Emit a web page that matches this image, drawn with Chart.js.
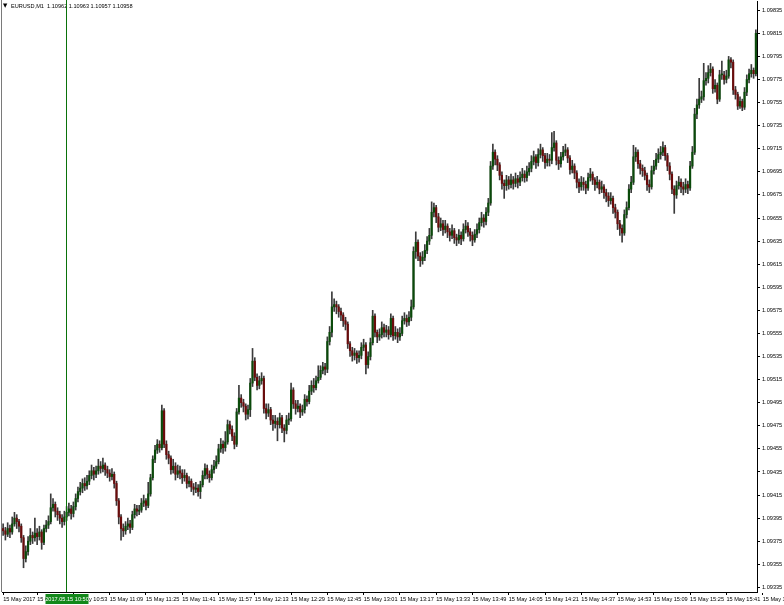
<!DOCTYPE html>
<html><head><meta charset="utf-8">
<script src="https://cdn.jsdelivr.net/npm/chart.js@4.4.1/dist/chart.umd.min.js"></script>
<style>html,body{margin:0;padding:0;background:#fff;}#wrap{width:784px;height:605px;}</style>
</head><body><div id="wrap"><canvas id="c" width="784" height="605"></canvas></div>
<script>
const headerText = 'EURUSD,M1  1.10962 1.10963 1.10957 1.10958';
const startHour = 10, startMinute = 22, dayPrefix = '15 May ';
const cursorIndex = 28;
const cursorLabel = '2017.05.15 10:50';

const openP = [
1.09386,1.09384,1.09381,1.09386,1.09383,1.09390,1.09395,1.09392,1.09388,1.09378,
1.09360,1.09366,1.09375,1.09380,1.09378,1.09382,1.09379,1.09383,1.09374,1.09386,
1.09389,1.09392,1.09404,1.09407,1.09401,1.09398,1.09395,1.09392,1.09396,1.09400,
1.09403,1.09399,1.09405,1.09412,1.09418,1.09421,1.09425,1.09423,1.09427,1.09432,
1.09436,1.09433,1.09436,1.09440,1.09438,1.09441,1.09437,1.09434,1.09431,1.09433,
1.09425,1.09410,1.09396,1.09386,1.09384,1.09388,1.09390,1.09387,1.09398,1.09403,
1.09401,1.09402,1.09408,1.09410,1.09406,1.09416,1.09430,1.09446,1.09454,1.09459,
1.09456,1.09488,1.09459,1.09450,1.09447,1.09437,1.09440,1.09433,1.09436,1.09434,
1.09430,1.09432,1.09425,1.09427,1.09422,1.09420,1.09421,1.09418,1.09424,1.09432,
1.09438,1.09433,1.09430,1.09437,1.09440,1.09444,1.09455,1.09459,1.09456,1.09461,
1.09476,1.09472,1.09466,1.09459,1.09487,1.09499,1.09495,1.09492,1.09485,1.09489,
1.09512,1.09531,1.09517,1.09510,1.09514,1.09516,1.09490,1.09486,1.09489,1.09480,
1.09477,1.09479,1.09476,1.09482,1.09473,1.09471,1.09480,1.09481,1.09506,1.09494,
1.09490,1.09492,1.09487,1.09489,1.09498,1.09496,1.09505,1.09510,1.09508,1.09514,
1.09517,1.09523,1.09526,1.09524,1.09548,1.09556,1.09578,1.09580,1.09578,1.09574,
1.09571,1.09566,1.09563,1.09546,1.09540,1.09536,1.09538,1.09534,1.09536,1.09543,
1.09545,1.09528,1.09535,1.09547,1.09570,1.09556,1.09552,1.09554,1.09560,1.09556,
1.09558,1.09554,1.09568,1.09553,1.09556,1.09552,1.09555,1.09566,1.09568,1.09565,
1.09569,1.09578,1.09626,1.09634,1.09622,1.09618,1.09621,1.09627,1.09635,1.09640,
1.09660,1.09664,1.09656,1.09647,1.09650,1.09645,1.09648,1.09643,1.09640,1.09644,
1.09638,1.09636,1.09640,1.09637,1.09645,1.09648,1.09643,1.09640,1.09636,1.09641,
1.09645,1.09651,1.09655,1.09652,1.09660,1.09668,1.09700,1.09712,1.09706,1.09701,
1.09692,1.09685,1.09683,1.09688,1.09684,1.09688,1.09685,1.09689,1.09686,1.09690,
1.09693,1.09690,1.09695,1.09698,1.09704,1.09708,1.09703,1.09710,1.09714,1.09709,
1.09703,1.09706,1.09705,1.09716,1.09720,1.09705,1.09702,1.09708,1.09712,1.09714,
1.09707,1.09697,1.09700,1.09694,1.09686,1.09682,1.09686,1.09684,1.09681,1.09690,
1.09693,1.09688,1.09684,1.09686,1.09680,1.09682,1.09677,1.09674,1.09670,1.09672,
1.09664,1.09660,1.09650,1.09646,1.09642,1.09658,1.09664,1.09680,1.09686,1.09708,
1.09712,1.09702,1.09698,1.09696,1.09692,1.09684,1.09682,1.09696,1.09700,1.09706,
1.09710,1.09712,1.09716,1.09709,1.09700,1.09693,1.09680,1.09675,1.09683,1.09686,
1.09682,1.09680,1.09684,1.09681,1.09700,1.09712,1.09745,1.09753,1.09758,1.09760,
1.09774,1.09776,1.09781,1.09784,1.09767,1.09770,1.09758,1.09779,1.09779,1.09775,
1.09778,1.09792,1.09790,1.09766,1.09762,1.09752,1.09756,1.09751,1.09764,1.09775,
1.09780,1.09783,1.09780];

const highP = [
1.09390,1.09387,1.09391,1.09389,1.09396,1.09400,1.09398,1.09394,1.09390,1.09380,
1.09371,1.09379,1.09386,1.09383,1.09395,1.09386,1.09388,1.09385,1.09389,1.09393,
1.09397,1.09416,1.09412,1.09409,1.09404,1.09401,1.09398,1.09401,1.09405,1.09408,
1.09406,1.09409,1.09416,1.09422,1.09426,1.09429,1.09430,1.09432,1.09436,1.09441,
1.09439,1.09440,1.09446,1.09444,1.09447,1.09443,1.09440,1.09437,1.09438,1.09435,
1.09427,1.09412,1.09398,1.09390,1.09392,1.09395,1.09393,1.09401,1.09407,1.09406,
1.09406,1.09412,1.09415,1.09412,1.09426,1.09433,1.09449,1.09458,1.09463,1.09462,
1.09493,1.09490,1.09462,1.09453,1.09449,1.09446,1.09443,1.09441,1.09440,1.09437,
1.09437,1.09434,1.09431,1.09429,1.09425,1.09426,1.09424,1.09427,1.09436,1.09442,
1.09441,1.09436,1.09441,1.09445,1.09449,1.09459,1.09464,1.09462,1.09470,1.09480,
1.09479,1.09475,1.09469,1.09490,1.09510,1.09502,1.09498,1.09494,1.09493,1.09516,
1.09542,1.09534,1.09520,1.09518,1.09521,1.09518,1.09494,1.09494,1.09491,1.09484,
1.09484,1.09482,1.09486,1.09484,1.09476,1.09484,1.09486,1.09512,1.09508,1.09497,
1.09497,1.09494,1.09493,1.09502,1.09501,1.09510,1.09514,1.09516,1.09518,1.09527,
1.09527,1.09530,1.09529,1.09552,1.09561,1.09591,1.09585,1.09583,1.09580,1.09577,
1.09573,1.09569,1.09565,1.09548,1.09543,1.09542,1.09540,1.09540,1.09547,1.09550,
1.09547,1.09539,1.09551,1.09575,1.09572,1.09558,1.09559,1.09565,1.09563,1.09562,
1.09561,1.09572,1.09570,1.09561,1.09559,1.09560,1.09570,1.09573,1.09571,1.09574,
1.09584,1.09630,1.09643,1.09636,1.09625,1.09626,1.09632,1.09639,1.09646,1.09669,
1.09668,1.09666,1.09659,1.09655,1.09653,1.09653,1.09650,1.09646,1.09649,1.09646,
1.09641,1.09645,1.09643,1.09650,1.09653,1.09651,1.09646,1.09643,1.09645,1.09650,
1.09655,1.09660,1.09658,1.09664,1.09672,1.09704,1.09719,1.09714,1.09709,1.09703,
1.09695,1.09688,1.09692,1.09691,1.09693,1.09691,1.09694,1.09692,1.09695,1.09698,
1.09696,1.09700,1.09703,1.09709,1.09713,1.09710,1.09715,1.09719,1.09716,1.09711,
1.09711,1.09710,1.09729,1.09730,1.09722,1.09708,1.09712,1.09717,1.09719,1.09716,
1.09709,1.09705,1.09702,1.09696,1.09689,1.09691,1.09690,1.09687,1.09694,1.09698,
1.09695,1.09690,1.09691,1.09688,1.09687,1.09684,1.09680,1.09677,1.09677,1.09674,
1.09667,1.09662,1.09653,1.09649,1.09662,1.09669,1.09684,1.09691,1.09718,1.09716,
1.09714,1.09705,1.09701,1.09699,1.09694,1.09688,1.09700,1.09705,1.09711,1.09715,
1.09717,1.09721,1.09718,1.09711,1.09703,1.09695,1.09683,1.09687,1.09691,1.09689,
1.09686,1.09689,1.09687,1.09704,1.09717,1.09750,1.09758,1.09776,1.09765,1.09789,
1.09781,1.09787,1.09789,1.09786,1.09775,1.09772,1.09783,1.09791,1.09782,1.09783,
1.09795,1.09794,1.09792,1.09769,1.09764,1.09760,1.09758,1.09768,1.09779,1.09784,
1.09788,1.09785,1.09818];

const lowP = [
1.09380,1.09376,1.09379,1.09378,1.09381,1.09388,1.09386,1.09383,1.09374,1.09352,
1.09357,1.09363,1.09372,1.09373,1.09375,1.09372,1.09376,1.09368,1.09372,1.09383,
1.09386,1.09390,1.09401,1.09396,1.09393,1.09390,1.09387,1.09389,1.09393,1.09397,
1.09394,1.09396,1.09402,1.09409,1.09415,1.09417,1.09419,1.09420,1.09424,1.09429,
1.09428,1.09430,1.09433,1.09434,1.09435,1.09432,1.09430,1.09427,1.09428,1.09421,
1.09406,1.09390,1.09376,1.09379,1.09381,1.09385,1.09382,1.09385,1.09395,1.09397,
1.09398,1.09400,1.09405,1.09402,1.09404,1.09414,1.09428,1.09443,1.09451,1.09452,
1.09454,1.09456,1.09446,1.09442,1.09433,1.09434,1.09428,1.09430,1.09429,1.09425,
1.09427,1.09421,1.09422,1.09418,1.09415,1.09417,1.09414,1.09412,1.09422,1.09429,
1.09429,1.09426,1.09428,1.09434,1.09438,1.09442,1.09452,1.09451,1.09453,1.09459,
1.09468,1.09462,1.09455,1.09457,1.09485,1.09491,1.09487,1.09480,1.09481,1.09483,
1.09509,1.09514,1.09506,1.09507,1.09511,1.09486,1.09481,1.09483,1.09476,1.09471,
1.09473,1.09462,1.09473,1.09469,1.09461,1.09468,1.09476,1.09479,1.09490,1.09485,
1.09487,1.09482,1.09484,1.09486,1.09492,1.09494,1.09502,1.09504,1.09506,1.09512,
1.09515,1.09520,1.09519,1.09521,1.09545,1.09552,1.09574,1.09572,1.09569,1.09566,
1.09561,1.09558,1.09542,1.09535,1.09531,1.09532,1.09529,1.09530,1.09533,1.09540,
1.09520,1.09525,1.09532,1.09545,1.09552,1.09547,1.09549,1.09551,1.09552,1.09552,
1.09550,1.09552,1.09549,1.09550,1.09547,1.09549,1.09553,1.09563,1.09561,1.09562,
1.09566,1.09576,1.09620,1.09618,1.09613,1.09615,1.09618,1.09624,1.09632,1.09637,
1.09656,1.09651,1.09643,1.09644,1.09640,1.09642,1.09638,1.09635,1.09637,1.09633,
1.09631,1.09633,1.09632,1.09635,1.09642,1.09639,1.09635,1.09631,1.09634,1.09638,
1.09642,1.09648,1.09647,1.09649,1.09657,1.09666,1.09697,1.09701,1.09696,1.09688,
1.09680,1.09672,1.09679,1.09680,1.09681,1.09680,1.09682,1.09681,1.09683,1.09687,
1.09686,1.09687,1.09692,1.09695,1.09701,1.09698,1.09700,1.09707,1.09704,1.09698,
1.09700,1.09700,1.09702,1.09713,1.09701,1.09697,1.09699,1.09705,1.09709,1.09703,
1.09693,1.09694,1.09689,1.09681,1.09677,1.09679,1.09679,1.09676,1.09679,1.09687,
1.09684,1.09679,1.09681,1.09676,1.09677,1.09672,1.09669,1.09665,1.09667,1.09659,
1.09655,1.09645,1.09640,1.09634,1.09640,1.09655,1.09662,1.09677,1.09684,1.09704,
1.09698,1.09693,1.09691,1.09688,1.09679,1.09677,1.09680,1.09693,1.09697,1.09703,
1.09706,1.09709,1.09705,1.09696,1.09688,1.09676,1.09659,1.09672,1.09680,1.09677,
1.09675,1.09677,1.09676,1.09679,1.09698,1.09710,1.09741,1.09750,1.09755,1.09757,
1.09770,1.09772,1.09778,1.09763,1.09764,1.09754,1.09756,1.09775,1.09771,1.09772,
1.09776,1.09785,1.09762,1.09758,1.09749,1.09750,1.09748,1.09749,1.09761,1.09772,
1.09777,1.09776,1.09778];

const closeP = [
1.09384,1.09381,1.09386,1.09383,1.09390,1.09395,1.09392,1.09388,1.09378,1.09360,
1.09366,1.09375,1.09380,1.09378,1.09382,1.09379,1.09383,1.09374,1.09386,1.09389,
1.09392,1.09404,1.09407,1.09401,1.09398,1.09395,1.09392,1.09396,1.09400,1.09403,
1.09399,1.09405,1.09412,1.09418,1.09421,1.09425,1.09423,1.09427,1.09432,1.09436,
1.09433,1.09436,1.09440,1.09438,1.09441,1.09437,1.09434,1.09431,1.09433,1.09425,
1.09410,1.09396,1.09386,1.09384,1.09388,1.09390,1.09387,1.09398,1.09403,1.09401,
1.09402,1.09408,1.09410,1.09406,1.09416,1.09430,1.09446,1.09454,1.09459,1.09456,
1.09488,1.09459,1.09450,1.09447,1.09437,1.09440,1.09433,1.09436,1.09434,1.09430,
1.09432,1.09425,1.09427,1.09422,1.09420,1.09421,1.09418,1.09424,1.09432,1.09438,
1.09433,1.09430,1.09437,1.09440,1.09444,1.09455,1.09459,1.09456,1.09461,1.09476,
1.09472,1.09466,1.09459,1.09487,1.09499,1.09495,1.09492,1.09485,1.09489,1.09512,
1.09531,1.09517,1.09510,1.09514,1.09516,1.09490,1.09486,1.09489,1.09480,1.09477,
1.09479,1.09476,1.09482,1.09473,1.09471,1.09480,1.09481,1.09506,1.09494,1.09490,
1.09492,1.09487,1.09489,1.09498,1.09496,1.09505,1.09510,1.09508,1.09514,1.09517,
1.09523,1.09526,1.09524,1.09548,1.09556,1.09578,1.09580,1.09578,1.09574,1.09571,
1.09566,1.09563,1.09546,1.09540,1.09536,1.09538,1.09534,1.09536,1.09543,1.09545,
1.09528,1.09535,1.09547,1.09570,1.09556,1.09552,1.09554,1.09560,1.09556,1.09558,
1.09554,1.09568,1.09553,1.09556,1.09552,1.09555,1.09566,1.09568,1.09565,1.09569,
1.09578,1.09626,1.09634,1.09622,1.09618,1.09621,1.09627,1.09635,1.09640,1.09660,
1.09664,1.09656,1.09647,1.09650,1.09645,1.09648,1.09643,1.09640,1.09644,1.09638,
1.09636,1.09640,1.09637,1.09645,1.09648,1.09643,1.09640,1.09636,1.09641,1.09645,
1.09651,1.09655,1.09652,1.09660,1.09668,1.09700,1.09712,1.09706,1.09701,1.09692,
1.09685,1.09683,1.09688,1.09684,1.09688,1.09685,1.09689,1.09686,1.09690,1.09693,
1.09690,1.09695,1.09698,1.09704,1.09708,1.09703,1.09710,1.09714,1.09709,1.09703,
1.09706,1.09705,1.09716,1.09720,1.09705,1.09702,1.09708,1.09712,1.09714,1.09707,
1.09697,1.09700,1.09694,1.09686,1.09682,1.09686,1.09684,1.09681,1.09690,1.09693,
1.09688,1.09684,1.09686,1.09680,1.09682,1.09677,1.09674,1.09670,1.09672,1.09664,
1.09660,1.09650,1.09646,1.09642,1.09658,1.09664,1.09680,1.09686,1.09708,1.09712,
1.09702,1.09698,1.09696,1.09692,1.09684,1.09682,1.09696,1.09700,1.09706,1.09710,
1.09712,1.09716,1.09709,1.09700,1.09693,1.09680,1.09675,1.09683,1.09686,1.09682,
1.09680,1.09684,1.09681,1.09700,1.09712,1.09745,1.09753,1.09758,1.09760,1.09774,
1.09776,1.09781,1.09784,1.09767,1.09770,1.09758,1.09779,1.09779,1.09775,1.09778,
1.09792,1.09790,1.09766,1.09762,1.09752,1.09756,1.09751,1.09764,1.09775,1.09780,
1.09783,1.09780,1.09815];

const xTickIndex = [0,15,31,47,63,79,95,111,127,143,159,175,191,207,223,239,255,271,287,303,319,335];
const xTickLabels = ['15 May 2017','15 May 10:37','15 May 10:53','15 May 11:09','15 May 11:25','15 May 11:41',
  '15 May 11:57','15 May 12:13','15 May 12:29','15 May 12:45','15 May 13:01','15 May 13:17','15 May 13:33',
  '15 May 13:49','15 May 14:05','15 May 14:21','15 May 14:37','15 May 14:53','15 May 15:09','15 May 15:25',
  '15 May 15:41','15 May 15:57'];
const yTickValues = [1.09335,1.09355,1.09375,1.09395,1.09415,1.09435,1.09455,1.09475,1.09495,1.09515,
  1.09535,1.09555,1.09575,1.09595,1.09615,1.09635,1.09655,1.09675,1.09695,1.09715,1.09735,1.09755,
  1.09775,1.09795,1.09815,1.09835];
const yMin = 1.09331, yMax = 1.09843;

// categories: one per minute bar
const categories = [];
for (let i = 0; i < closeP.length; i++) {
  const t = startHour * 60 + startMinute + i;
  categories.push(dayPrefix + String(Math.floor(t / 60)).padStart(2, '0') + ':' + String(t % 60).padStart(2, '0'));
}
const tickLabelMap = {};
xTickIndex.forEach((v, i) => { tickLabelMap[v] = xTickLabels[i]; });

const wickData = lowP.map((l, i) => [l, highP[i]]);
const bodyData = openP.map((o, i) => [Math.min(o, closeP[i]), Math.max(o, closeP[i])]);
const BULL = '#0a4a0a', BEAR = '#6a0b0b';
const bodyColors = openP.map((o, i) => closeP[i] >= o ? BULL : BEAR);

const FONT = {family: "'Liberation Sans', 'DejaVu Sans', sans-serif", size: 5.6};

const overlay = {
  id: 'overlay',
  afterDraw(chart) {
    const ctx = chart.ctx;
    const area = chart.chartArea;
    const xs = chart.scales.x;
    ctx.save();
    ctx.strokeStyle = '#7a7a7a';
    ctx.lineWidth = 1;
    ctx.beginPath();
    ctx.moveTo(1.5, 0); ctx.lineTo(1.5, area.bottom);
    ctx.stroke();
    ctx.fillStyle = '#000';
    ctx.font = "5.6px 'DejaVu Sans', sans-serif";
    ctx.textBaseline = 'middle';
    ctx.textAlign = 'left';
    ctx.fillText('▼', 3, 6);
    ctx.font = "5.6px 'Liberation Sans', sans-serif";
    ctx.fillText(headerText, 11, 6);
    const cx = Math.round(xs.getPixelForValue(cursorIndex)) - 0.5;
    ctx.strokeStyle = '#0a720a';
    ctx.beginPath();
    ctx.moveTo(cx, 0); ctx.lineTo(cx, area.bottom);
    ctx.stroke();
    const bw = 43, bh = 10;
    ctx.fillStyle = '#12881a';
    ctx.fillRect(cx - bw / 2 + 0.5, area.bottom + 2, bw, bh);
    ctx.fillStyle = '#fff';
    ctx.textAlign = 'center';
    ctx.font = "5.6px 'Liberation Sans', sans-serif";
    ctx.fillText(cursorLabel, cx + 0.5, area.bottom + 7);
    ctx.restore();
  }
};

new Chart(document.getElementById('c'), {
  type: 'bar',
  data: {
    labels: categories,
    datasets: [
      {data: wickData, backgroundColor: '#3a3a3a', barThickness: 1, grouped: false, order: 2, borderWidth: 0},
      {data: bodyData, backgroundColor: bodyColors, barThickness: 1.5, grouped: false, order: 1, borderWidth: 0, minBarLength: 1}
    ]
  },
  options: {
    responsive: false,
    devicePixelRatio: 1,
    animation: false,
    events: [],
    layout: {padding: {left: 2, top: 1, right: 0, bottom: 0}},
    plugins: {legend: {display: false}, tooltip: {enabled: false}},
    scales: {
      x: {
        type: 'category',
        offset: true,
        grid: {display: true, drawOnChartArea: false, drawTicks: true, tickLength: 3, color: '#000', offset: false},
        border: {display: true, color: '#000'},
        ticks: {
          autoSkip: false, maxRotation: 0, minRotation: 0, align: 'start', padding: 1,
          color: '#000', font: FONT,
          callback: (v) => tickLabelMap[v] || ''
        },
        afterBuildTicks: (s) => { s.ticks = xTickIndex.map(v => ({value: v})); },
        afterFit: (s) => { s.height = 13; s.paddingLeft = 0; s.paddingRight = 0; }
      },
      y: {
        type: 'linear',
        position: 'right',
        min: yMin, max: yMax,
        grid: {display: true, drawOnChartArea: false, drawTicks: true, tickLength: 3, color: '#000'},
        border: {display: true, color: '#000'},
        ticks: {color: '#000', font: FONT, padding: 2, callback: (v) => v.toFixed(5)},
        afterBuildTicks: (s) => { s.ticks = yTickValues.map(v => ({value: v})); },
        afterFit: (s) => { s.width = 27; s.paddingTop = 0; s.paddingBottom = 0; }
      }
    }
  },
  plugins: [overlay]
});
</script></body></html>
